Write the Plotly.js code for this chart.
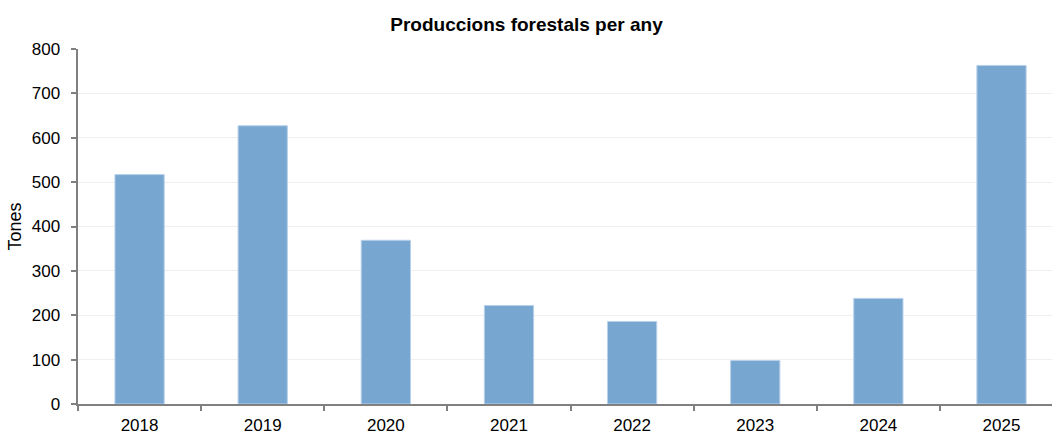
<!DOCTYPE html>
<html>
<head>
<meta charset="utf-8">
<script src="https://cdn.plot.ly/plotly-3.0.1.min.js"></script>
<style>html,body{margin:0;padding:0;overflow:hidden;background:#fff}#chart{width:1053px;height:434px}</style>
</head>
<body>
<div id="chart"></div>
<script>
const years = ['2018','2019','2020','2021','2022','2023','2024','2025'];
const tones = [517, 627, 369, 222, 186, 98, 238, 763];
const yTicks = [0,100,200,300,400,500,600,700,800];

const trace = {
  type: 'bar',
  x: years,
  y: tones,
  width: 0.4,
  marker: {color: '#77A6D1', line: {color: '#B9D1EA', width: 1}},
  hoverinfo: 'x+y'
};

const layout = {
  width: 1053, height: 434,
  margin: {l: 78, r: 1, t: 49, b: 30},
  paper_bgcolor: '#fff', plot_bgcolor: '#fff',
  font: {family: 'Liberation Sans, Arial, sans-serif', size: 17, color: '#000'},
  title: {text: '<b>Produccions forestals per any</b>', x: 0.5, xanchor: 'center', y: 0.945, yanchor: 'middle', yref: 'container',
          font: {size: 19, family: 'Liberation Sans, Arial, sans-serif', color: '#000'}},
  bargap: 0.6,
  showlegend: false,
  xaxis: {
    type: 'category',
    range: [-0.5, 7.41],
    tickson: 'boundaries',
    ticks: 'outside', ticklen: 5, tickwidth: 2, tickcolor: '#808080',
    showline: true, linecolor: '#808080', linewidth: 2,
    showgrid: false, zeroline: false,
    tickfont: {size: 17},
    ticklabelstandoff: 5
  },
  yaxis: {
    range: [0, 800],
    tickvals: yTicks,
    ticks: 'outside', ticklen: 5, tickwidth: 2, tickcolor: '#808080',
    showline: true, linecolor: '#808080', linewidth: 2.5,
    showgrid: true, gridcolor: '#EFEFEF', gridwidth: 1,
    zeroline: false,
    tickfont: {size: 17},
    ticklabelstandoff: 7,
    title: {text: 'Tones', font: {size: 18}, standoff: 6}
  }
};

Plotly.newPlot('chart', [trace], layout, {displayModeBar: false, staticPlot: true});
</script>
</body>
</html>
